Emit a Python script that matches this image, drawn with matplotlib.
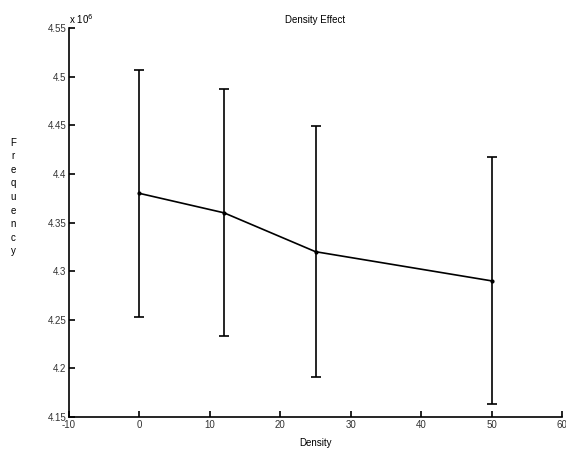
import matplotlib.pyplot as plt
from matplotlib.ticker import FormatStrFormatter

# Density levels and measured frequency (Hz)
density = [0, 12, 25, 50]
freq = [4.38e6, 4.36e6, 4.32e6, 4.29e6]
freq_err = [0.127e6, 0.127e6, 0.129e6, 0.127e6]

scale = 1e6

plt.rcParams['font.family'] = ['Liberation Sans', 'DejaVu Sans']
plt.rcParams['axes.unicode_minus'] = False

fig = plt.figure(figsize=(5.66, 4.53), dpi=100)
ax = fig.add_axes([0.122, 0.0795, 0.871, 0.8585])

ax.errorbar(density, [f / scale for f in freq], yerr=[e / scale for e in freq_err],
            color='black', lw=1.2, elinewidth=1.2, capsize=3.5, capthick=1.2,
            marker='.', markersize=4)

ax.set_xlim(-10, 60)
ax.set_ylim(4.15, 4.55)
ax.set_xticks(range(-10, 61, 10))
ax.set_yticks([4.15, 4.2, 4.25, 4.3, 4.35, 4.4, 4.45, 4.5, 4.55])
ax.yaxis.set_major_formatter(FormatStrFormatter('%g'))

for s in ['top', 'right']:
    ax.spines[s].set_visible(False)
for s in ['left', 'bottom']:
    ax.spines[s].set_linewidth(1.2)
ax.tick_params(direction='in', length=4, width=1.2, labelsize=7, pad=2, colors='black')
for lbl in ax.get_xticklabels() + ax.get_yticklabels():
    lbl.set_color('#333333')

ax.set_title('Density Effect', fontsize=7, pad=4)
ax.set_xlabel('Density', fontsize=7, labelpad=6)
fig.text(0.023, 0.565, '\n'.join('Frequency'), fontsize=7, ha='center', va='center',
         linespacing=1.45)
ax.text(0.0, 1.005, r'x 10$^6$', transform=ax.transAxes, fontsize=7,
        ha='left', va='bottom')

fig.savefig('out.png', dpi=100)
